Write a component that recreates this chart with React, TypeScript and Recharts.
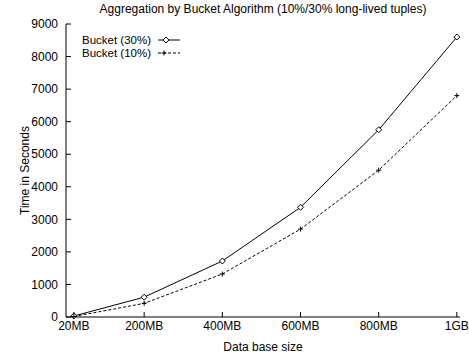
import React from 'react'
import { LineChart, Line, XAxis, YAxis, Label } from 'recharts'

// data sizes in MB (1GB = 1000)
const sizes = [20, 200, 400, 600, 800, 1000]
const sizeLabels = ['20MB', '200MB', '400MB', '600MB', '800MB', '1GB']
const bucket30 = [30, 610, 1720, 3370, 5750, 8600]
const bucket10 = [15, 420, 1320, 2700, 4510, 6800]
const yTicks = [0, 1000, 2000, 3000, 4000, 5000, 6000, 7000, 8000, 9000]

const FONT = '"Liberation Sans", Arial, sans-serif'
const FS = 12

const Diamond = (props: any) => {
    const { cx, cy } = props
    return <path d={`M${cx},${cy - 3}L${cx + 3},${cy}L${cx},${cy + 3}L${cx - 3},${cy}Z`} fill="#fff" stroke="#000" strokeWidth={1} />
}

const Plus = (props: any) => {
    const { cx, cy } = props
    return <path d={`M${cx - 2.5},${cy}H${cx + 2.5}M${cx},${cy - 2.5}V${cy + 2.5}`} stroke="#000" strokeWidth={1} />
}

export default function App() {
    const data = sizes.map((s, i) => ({ size: s, b30: bucket30[i], b10: bucket10[i] }))
    const tickFmt = (v: number) => sizeLabels[sizes.indexOf(v)] ?? ''

    return (
        <div style={{ position: 'absolute', left: 0, top: 0, width: 469, height: 354, background: '#fff', fontFamily: FONT }}>
            <div style={{ position: 'absolute', left: 66, width: 394, top: 2, textAlign: 'center', fontSize: FS, color: '#000' }}>
                Aggregation by Bucket Algorithm (10%/30% long-lived tuples)
            </div>
            <LineChart width={469} height={354} data={data} margin={{ top: 24, right: 9, bottom: 0, left: 0 }}>
                <XAxis xAxisId="b" dataKey="size" type="number" domain={[0, 1008]} ticks={sizes} tickFormatter={tickFmt}
                    height={37} stroke="#000" tickSize={-5} tickMargin={9} interval={0}
                    tick={{ fill: '#000', fontSize: FS, fontFamily: FONT }}>
                    <Label value="Data base size" position="insideBottom" offset={3} style={{ fill: '#000', fontSize: FS, fontFamily: FONT }} />
                </XAxis>
                <XAxis xAxisId="t" dataKey="size" type="number" orientation="top" domain={[0, 1008]} ticks={sizes}
                    height={0} stroke="#000" tickSize={-5} tick={{ fill: 'transparent', fontSize: 1 }} />
                <YAxis yAxisId="l" domain={[0, 9000]} ticks={yTicks} width={66} stroke="#000" tickSize={-5} tickMargin={13}
                    tick={{ fill: '#000', fontSize: FS, fontFamily: FONT }}>
                    <Label value="Time in Seconds" angle={-90} position="insideLeft" offset={25} style={{ fill: '#000', fontSize: FS, fontFamily: FONT, textAnchor: 'middle' }} />
                </YAxis>
                <YAxis yAxisId="r" orientation="right" domain={[0, 9000]} ticks={yTicks} width={0} stroke="#000" tickSize={-5}
                    tick={{ fill: 'transparent', fontSize: 1 }} />
                <Line xAxisId="b" yAxisId="l" dataKey="b30" stroke="#000" strokeWidth={1} dot={<Diamond />} activeDot={false} isAnimationActive={false} />
                <Line xAxisId="b" yAxisId="l" dataKey="b10" stroke="#000" strokeWidth={1} strokeDasharray="3 2" dot={<Plus />} activeDot={false} isAnimationActive={false} />
            </LineChart>
            <svg style={{ position: 'absolute', left: 0, top: 0 }} width={469} height={354} pointerEvents="none">
                <g fontFamily={FONT} fontSize={11.5} fill="#000">
                    <text x={151} y={43.5} textAnchor="end">Bucket (30%)</text>
                    <text x={151} y={56.5} textAnchor="end">Bucket (10%)</text>
                </g>
                <line x1={158} y1={40} x2={180} y2={40} stroke="#000" />
                <Diamond cx={166} cy={40} />
                <line x1={158} y1={53} x2={180} y2={53} stroke="#000" strokeDasharray="3 2" />
                <Plus cx={164} cy={53} />
            </svg>
        </div>
    )
}
